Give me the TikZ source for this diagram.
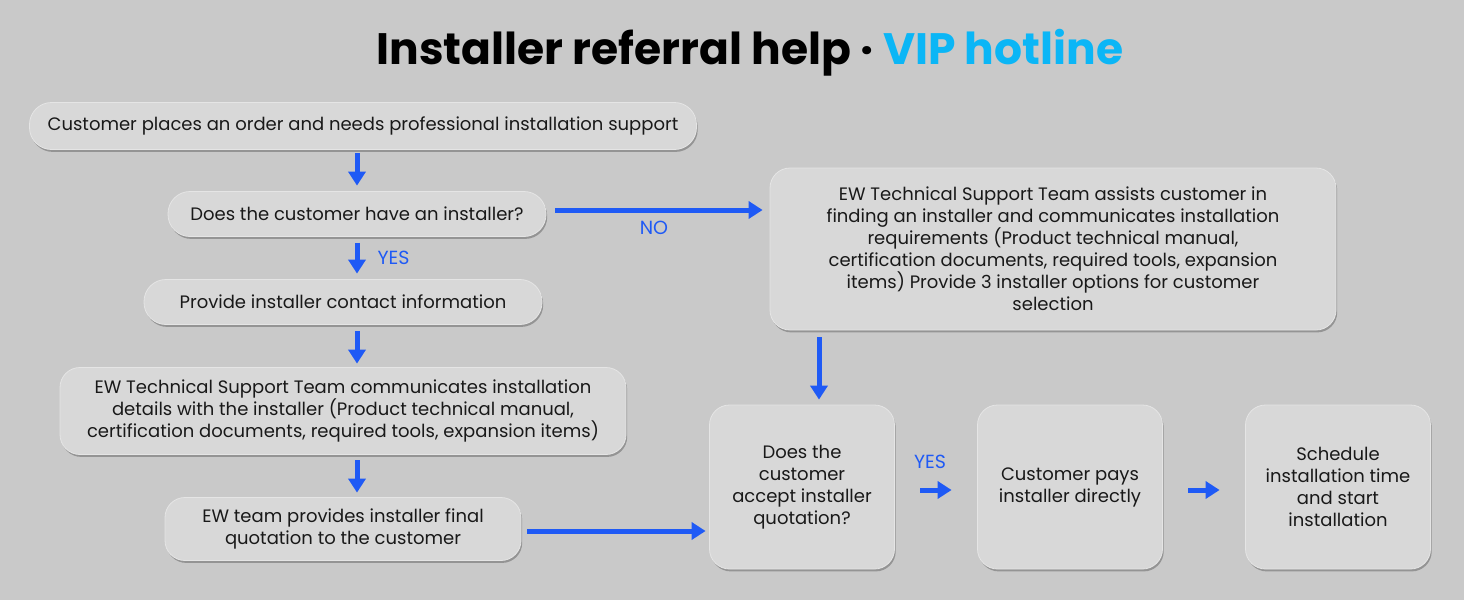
\documentclass[tikz,border=0pt]{standalone}
\usepackage{fontspec}
\setmainfont{Poppins}
\usetikzlibrary{arrows.meta,shadows}
\definecolor{bggray}{HTML}{C9C9C9}
\definecolor{boxgray}{HTML}{D8D8D8}
\definecolor{arrowblue}{HTML}{1F5AF5}
\definecolor{hotblue}{HTML}{0BB6F6}
\tikzstyle{pill}=[rounded corners=22pt, fill=boxgray, draw=white!90!black, line width=0.8pt,
    drop shadow={shadow xshift=1.2pt, shadow yshift=-2.4pt, fill=black!42, opacity=1},
    text=black!90, font=\fontsize{18}{22}\selectfont, align=center, inner sep=0pt]
\tikzstyle{card}=[pill, rounded corners=20pt]
\tikzstyle{tag}=[text=arrowblue, font=\fontsize{19}{22}\selectfont, inner sep=0pt]
\newcommand{\pillbox}{\node[pill]}
\newcommand{\cardbox}{\node[card]}

\begin{document}
\begin{tikzpicture}[x=1pt, y=-1pt
    ,every edge/.style={draw=arrowblue, line width=5pt,
        -{Triangle[length=14pt,width=17pt]}}
]
\useasboundingbox[fill=bggray] (0,0) rectangle (1464,600);
\node (title) at (750,53) {\fontsize{44}{52}\selectfont\bfseries
    Installer referral help · \textcolor{hotblue}{VIP hotline}};

\pillbox[minimum width=667pt, minimum height=47pt] (order) at (363,126)
    {Customer places an order and needs professional installation support};
\pillbox[minimum width=378pt, minimum height=45pt] (have) at (357,214)
    {Does the customer have an installer?};
\pillbox[minimum width=398pt, minimum height=45pt] (contact) at (343,302)
    {Provide installer contact information};
\cardbox[minimum width=566pt, minimum height=87pt] (details) at (343,411)
    {EW Technical Support Team communicates installation\\
     details with the installer (Product technical manual,\\
     certification documents, required tools, expansion items)};
\cardbox[minimum width=356pt, minimum height=63pt] (quote) at (343,529)
    {EW team provides installer final\\ quotation to the customer};
\cardbox[minimum width=566pt, minimum height=162pt] (assist) at (1053,249)
    {EW Technical Support Team assists customer in\\
     finding an installer and communicates installation\\
     requirements (Product technical manual,\\
     certification documents, required tools, expansion\\
     items) Provide 3 installer options for customer\\
     selection};
\cardbox[minimum width=185pt, minimum height=164pt] (accept) at (802,487)
    {Does the\\ customer\\ accept installer\\ quotation?};
\cardbox[minimum width=185pt, minimum height=164pt] (pays) at (1070,487)
    {Customer pays\\ installer directly};
\cardbox[minimum width=185pt, minimum height=164pt] (begin) at (1338,487)
    {Schedule\\ installation time\\ and start\\ installation};

\path
(order.south -| have) edge[shorten <=3.5pt, shorten >=5.5pt] (have.north)
(have.south) edge[shorten <=6pt, shorten >=5.5pt]
    node[tag, midway, right=18pt] {YES} (have.south |- contact.north)
(contact.south -| have) edge[shorten <=6.5pt, shorten >=3.5pt] (details.north -| have)
(details.south -| have) edge[shorten <=5.5pt, shorten >=4.5pt] (quote.north -| have)
([yshift=4pt]have.east) edge[shorten <=9pt, shorten >=7pt]
    node[tag, midway, below=9pt, xshift=-4pt] {NO} ([yshift=4pt]have.east -| assist.west)
([xshift=17pt]accept.north |- assist.south) edge[shorten <=7pt, shorten >=5pt] ([xshift=17pt]accept.north)
([yshift=-2pt]quote.east) edge[shorten <=6pt, shorten >=3.5pt] ([yshift=-2pt]quote.east -| accept.west)
([yshift=-3pt]accept.east) edge[shorten <=25.5pt, shorten >=25.5pt]
    node[tag, midway, above=19pt, xshift=-6pt] {YES} ([yshift=-3pt]pays.west)
([yshift=-3pt]pays.east) edge[shorten <=25.5pt, shorten >=25.5pt] ([yshift=-3pt]begin.west)
;
\end{tikzpicture}
\end{document}
